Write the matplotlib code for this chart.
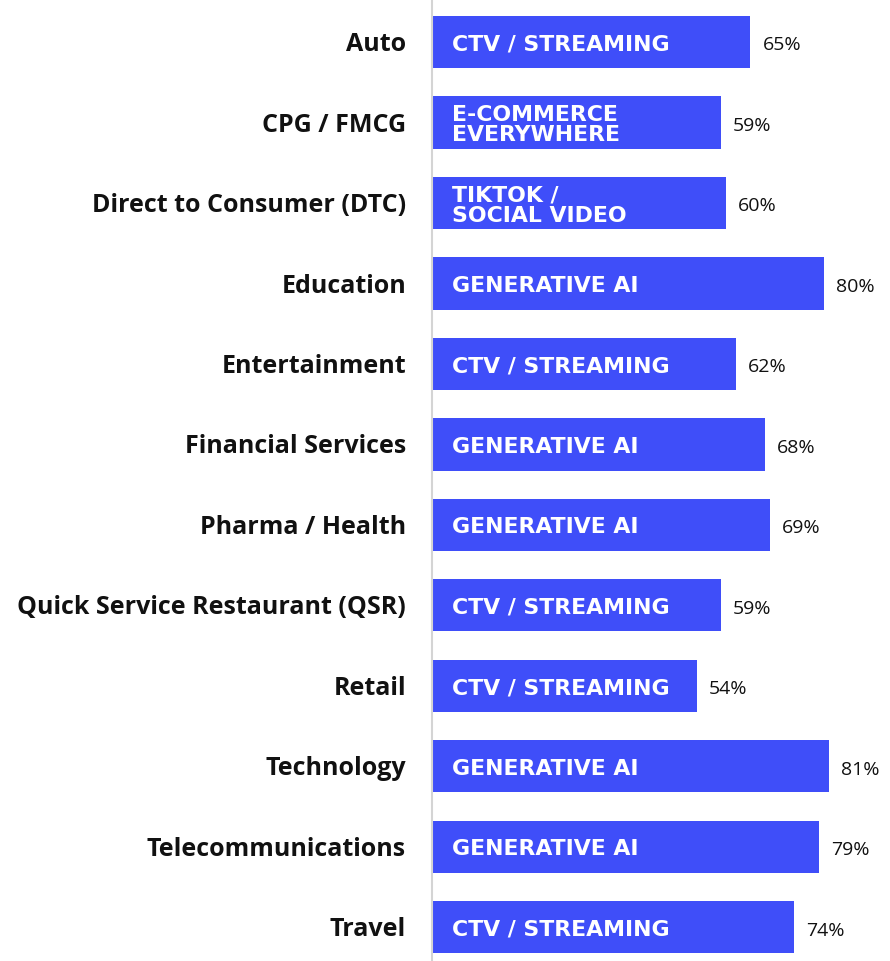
import matplotlib
matplotlib.use("Agg")
import matplotlib.pyplot as plt

categories = ["Auto", "CPG / FMCG", "Direct to Consumer (DTC)", "Education", "Entertainment",
              "Financial Services", "Pharma / Health", "Quick Service Restaurant (QSR)",
              "Retail", "Technology", "Telecommunications", "Travel"]
top_trend = ["CTV / STREAMING", "E-COMMERCE\nEVERYWHERE", "TIKTOK /\nSOCIAL VIDEO", "GENERATIVE AI",
             "CTV / STREAMING", "GENERATIVE AI", "GENERATIVE AI", "CTV / STREAMING",
             "CTV / STREAMING", "GENERATIVE AI", "GENERATIVE AI", "CTV / STREAMING"]
share = [65, 59, 60, 80, 62, 68, 69, 59, 54, 81, 79, 74]

bar_color = "#3f4ef9"

fig = plt.figure(figsize=(8.9, 9.62), dpi=100)
ax = fig.add_axes([432 / 890, 0, 1 - 432 / 890, 1])

y = list(range(len(categories)))
ax.barh(y, share, height=0.65, color=bar_color)

for i, (cat, trend, v) in enumerate(zip(categories, top_trend, share)):
    ax.text(-5.3, i + 0.02, cat, ha="right", va="center", fontsize=18, fontweight="bold",
            family="Open Sans", color="#111111")
    ax.text(4.1, i + 0.02, trend, ha="left", va="center", fontsize=15.8, fontweight="bold",
            family="DejaVu Sans", color="white", linespacing=1.0)
    ax.text(v + 2.45, i + 0.03, f"{v}%", ha="left", va="center", fontsize=14,
            family="Open Sans", color="#111111")

ax.set_xlim(0, 93.5)
ax.set_ylim(11.42, -0.534)
ax.set_xticks([])
ax.set_yticks([])
for s in ["top", "right", "bottom"]:
    ax.spines[s].set_visible(False)
ax.spines["left"].set_color("#d4d4d4")
ax.spines["left"].set_linewidth(1.5)

fig.savefig("out.png", dpi=100)
